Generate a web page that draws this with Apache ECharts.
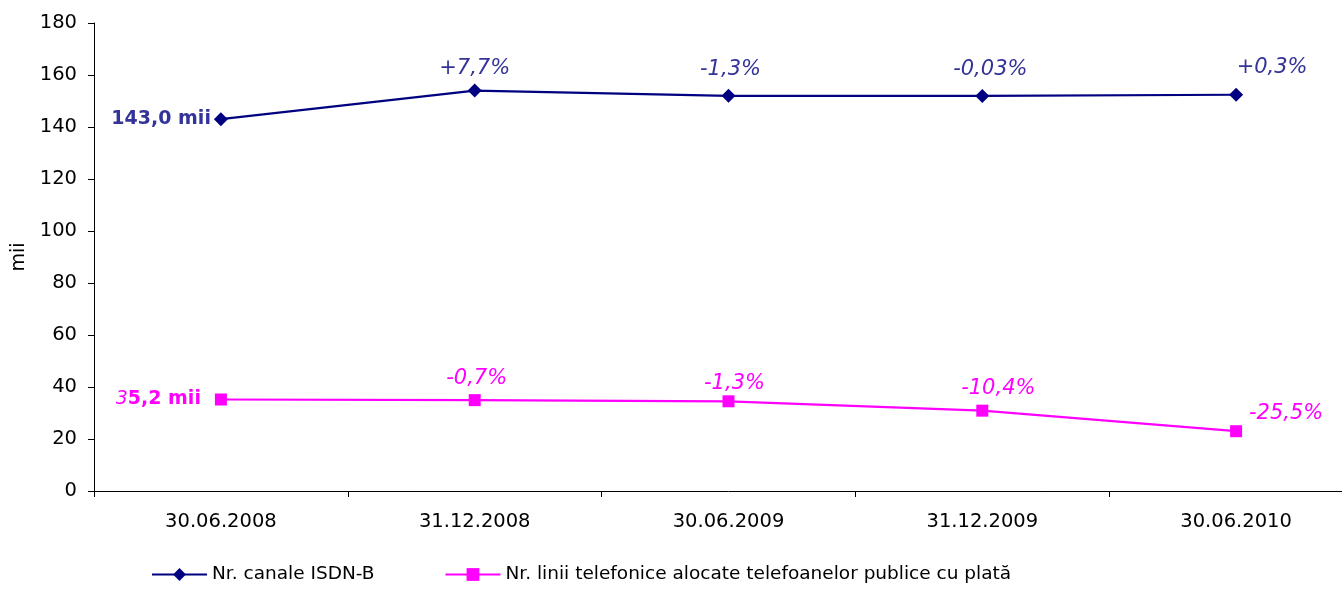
<!DOCTYPE html>
<html>
<head>
<meta charset="utf-8">
<script src="https://cdn.jsdelivr.net/npm/echarts@6/dist/echarts.min.js"></script>
<style>html,body{margin:0;padding:0;background:#fff;overflow:hidden;width:1342px;height:589px}#c{width:1363px;height:589px}</style>
</head>
<body>
<div id="c"></div>
<script>
const categories = ['30.06.2008', '31.12.2008', '30.06.2009', '31.12.2009', '30.06.2010'];
const isdnName = 'Nr. canale ISDN-B';
const payName = 'Nr. linii telefonice alocate telefoanelor publice cu plată';
const isdnValues = [143.0, 154.0, 152.0, 151.95, 152.4];
const payValues = [35.2, 34.95, 34.5, 30.9, 23.0];
const isdnLabels = ['143,0 mii', '+7,7%', '-1,3%', '-0,03%', '+0,3%'];
const payLabels = ['35,2 mii', '-0,7%', '-1,3%', '-10,4%', '-25,5%'];
const yTicks = [0, 20, 40, 60, 80, 100, 120, 140, 160, 180];

const FONT = 'DejaVu Sans';
const BLUE_LINE = '#000080', BLUE_TXT = '#333399', PINK = '#FF00FF';

const isdnOffsets = [null, [0, 0], [2, -4], [8, -4], [36, -5]];
const payOffsets = [null, [2, 0], [6, 4], [16, -1], [50, 4]];

function pctLabel(color, off) {
  return { show: true, position: 'top', distance: 5, offset: off,
    color: color, fontFamily: FONT, fontStyle: 'italic', fontSize: 21 };
}

const isdnData = isdnValues.map((v, i) => {
  if (i === 0) return { value: v, label: { show: true, position: 'left', distance: 3,
      formatter: isdnLabels[0], color: BLUE_TXT, fontFamily: FONT, fontWeight: 'bold', fontSize: 19 } };
  return { value: v, label: Object.assign(pctLabel(BLUE_TXT, isdnOffsets[i]), { formatter: isdnLabels[i] }) };
});
const payData = payValues.map((v, i) => {
  if (i === 0) {
    const s = payLabels[0];
    return { value: v, label: { show: true, position: 'left', distance: 14,
      formatter: '{i|' + s.charAt(0) + '}{b|' + s.slice(1) + '}',
      rich: { i: { color: PINK, fontFamily: FONT, fontStyle: 'italic', fontSize: 19 },
              b: { color: PINK, fontFamily: FONT, fontWeight: 'bold', fontSize: 19 } } } };
  }
  return { value: v, label: Object.assign(pctLabel(PINK, payOffsets[i]), { formatter: payLabels[i] }) };
});

const chart = echarts.init(document.getElementById('c'), null, { renderer: 'canvas' });
chart.setOption({
  animation: false,
  backgroundColor: '#fff',
  grid: { left: 94, top: 23, right: 0, bottom: 98, containLabel: false },
  legend: {
    left: 146, bottom: 0, itemWidth: 55, itemHeight: 16, itemGap: 70,
    textStyle: { fontFamily: FONT, fontSize: 18.5, color: '#000' },
    data: [isdnName, payName]
  },
  xAxis: {
    type: 'category', data: categories, boundaryGap: true,
    axisLine: { lineStyle: { color: '#000', width: 1 } },
    axisTick: { show: true, length: 6, inside: false, lineStyle: { color: '#000' } },
    axisLabel: { margin: 21, fontFamily: FONT, fontSize: 19.5, color: '#000' },
    splitLine: { show: false }
  },
  yAxis: {
    type: 'value', min: 0, max: 180, interval: 20,
    name: 'mii', nameLocation: 'middle', nameGap: 63, nameRotate: 90,
    nameTextStyle: { fontFamily: FONT, fontSize: 19, color: '#000' },
    axisLine: { show: true, lineStyle: { color: '#000', width: 1 } },
    axisTick: { show: true, length: 6, lineStyle: { color: '#000' } },
    axisLabel: { margin: 17, fontFamily: FONT, fontSize: 19.5, color: '#000',
      formatter: v => yTicks.includes(v) ? String(v) : '' },
    splitLine: { show: false }
  },
  series: [
    { name: isdnName, type: 'line', data: isdnData, symbol: 'diamond', symbolSize: 14,
      lineStyle: { color: BLUE_LINE, width: 2.2 }, itemStyle: { color: BLUE_LINE } },
    { name: payName, type: 'line', data: payData, symbol: 'rect', symbolSize: 12,
      lineStyle: { color: PINK, width: 2.2 }, itemStyle: { color: PINK } }
  ]
});
</script>
</body>
</html>
